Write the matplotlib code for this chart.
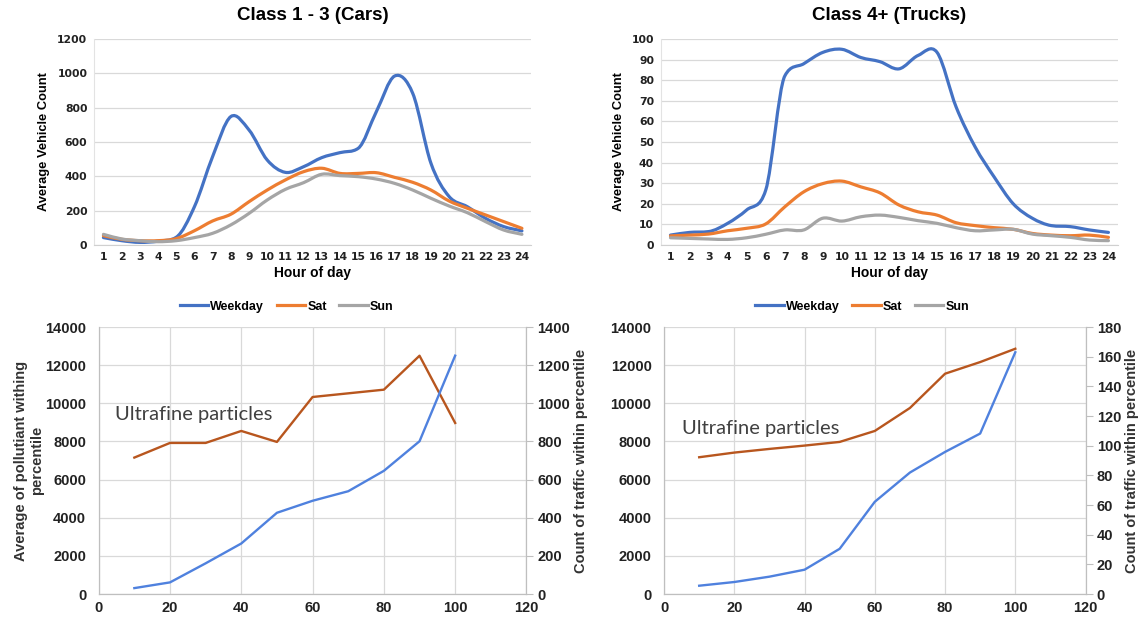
import numpy as np
import matplotlib
matplotlib.use("Agg")
import matplotlib.pyplot as plt
from matplotlib.path import Path
from matplotlib.patches import PathPatch
from matplotlib.lines import Line2D

plt.rcParams['font.family'] = ['Liberation Sans', 'DejaVu Sans']

# hourly counts
hours = list(range(1, 25))
cars_weekday = [43, 25, 15, 22, 45, 223, 515, 748, 670, 495, 423, 456, 509, 538, 563, 777,
                984, 883, 476, 282, 223, 155, 107, 82]
cars_sat = [54, 33, 25, 25, 37, 83, 140, 179, 252, 320, 379, 427, 447, 417, 417, 421,
            394, 365, 320, 256, 214, 175, 136, 97]
cars_sun = [62, 35, 25, 19, 25, 43, 68, 117, 184, 262, 324, 363, 412, 404, 398, 384,
            359, 320, 272, 227, 188, 136, 87, 62]
trucks_weekday = [4.8, 6.1, 6.5, 10.5, 17, 26.6, 82, 88, 93.5, 95, 91, 89, 85.5, 92, 93.5, 67,
                  47.6, 33, 20, 13, 9.4, 8.9, 7.3, 6.1]
trucks_sat = [4.4, 4.8, 5.3, 6.9, 8.1, 10.2, 18.5, 25.8, 29.8, 31, 28.2, 25.3, 19.4, 16.1, 14.5,
              10.8, 9.4, 8.4, 7.6, 5.6, 4.8, 4.5, 4.8, 3.7]
trucks_sun = [3.5, 3.2, 2.9, 2.7, 3.5, 5.2, 7.3, 7.3, 13, 11.6, 13.7, 14.5, 13.4, 11.8, 10.5,
              8.4, 6.9, 7.3, 7.6, 5.3, 4.5, 3.7, 2.4, 2.1]

# percentile panels
percentile = [10, 20, 30, 40, 50, 60, 70, 80, 90, 100]
ufp_cars = [7155, 7923, 7923, 8551, 7976, 10332, 10524, 10716, 12496, 8970]
traffic_cars = [31, 61, 161, 265, 426, 489, 539, 646, 801, 1250]
ufp_trucks = [7173, 7417, 7609, 7784, 7976, 8551, 9756, 11553, 12164, 12862]
traffic_trucks = [5.6, 8.1, 11.7, 16.4, 30.5, 62.2, 81.9, 95.8, 108.2, 163]

BLUE, ORANGE, GREY = '#4472C4', '#ED7D31', '#A5A5A5'
BROWN, LBLUE = '#B8561E', '#4F81DE'


def smooth_line(ax, x, y, color, lw=2.3):
    # excel-style smoothed line: cubic bezier through the points
    x = np.asarray(x, float)
    y = np.asarray(y, float)
    n = len(x)
    d = np.diff(y) / np.diff(x)
    m = np.zeros(n)
    m[0], m[-1] = d[0], d[-1]
    for i in range(1, n - 1):
        m[i] = (y[i + 1] - y[i - 1]) / (x[i + 1] - x[i - 1])
        # limit slope on monotone stretches so steep jumps don't overshoot
        if d[i - 1] * d[i] > 0:
            lim = 3 * min(abs(d[i - 1]), abs(d[i]))
            m[i] = np.sign(m[i]) * min(abs(m[i]), lim)
    verts = [(x[0], y[0])]
    codes = [Path.MOVETO]
    for i in range(n - 1):
        h = (x[i + 1] - x[i]) / 3.0
        verts += [(x[i] + h, y[i] + m[i] * h), (x[i + 1] - h, y[i + 1] - m[i + 1] * h),
                  (x[i + 1], y[i + 1])]
        codes += [Path.CURVE4] * 3
    ax.add_patch(PathPatch(Path(verts, codes), facecolor='none', edgecolor=color,
                           lw=lw, capstyle='round', joinstyle='round'))


def hourly_panel(rect, title, series, ymax, ystep):
    ax = fig.add_axes(rect)
    ax.set_xlim(0.5, 24.5)
    ax.set_ylim(0, ymax)
    for vals, col in series:
        smooth_line(ax, hours, vals, col)
    ax.set_xticks(hours)
    ax.set_yticks(np.arange(0, ymax + 0.1, ystep))
    ax.tick_params(length=0, labelsize=7.8, colors='#222222', pad=5)
    for lab in ax.get_xticklabels() + ax.get_yticklabels():
        lab.set_fontweight('bold')
        lab.set_family('DejaVu Sans')
    ax.grid(axis='y', color='#D9D9D9', lw=0.9)
    ax.set_axisbelow(True)
    for s in ['top', 'right']:
        ax.spines[s].set_visible(False)
    ax.spines['left'].set_color('#E3E3E3')
    ax.spines['bottom'].set_color('#D0D0D0')
    ax.set_title(title, fontsize=13.5, fontweight='bold', pad=14)
    ax.set_xlabel('Hour of day', fontsize=10, fontweight='bold', labelpad=3)
    ax.set_ylabel('Average Vehicle Count', fontsize=9.3, fontweight='bold', labelpad=5)
    handles = [Line2D([], [], color=c, lw=2.3) for c in (BLUE, ORANGE, GREY)]
    ax.legend(handles, ['Weekday', 'Sat', 'Sun'], ncol=3, frameon=False,
              loc='center', bbox_to_anchor=(0.44, -0.3),
              prop={'weight': 'bold', 'size': 9}, handlelength=2.3,
              handletextpad=0.15, columnspacing=1.0)
    return ax


def percentile_panel(rect, ufp, traffic, rmax, rstep, lefttxt, righttxt, txt_xy):
    ax = fig.add_axes(rect)
    ax.plot(percentile, ufp, color=BROWN, lw=1.7)
    ax.set_xlim(0, 120)
    ax.set_ylim(0, 14000)
    ax.set_xticks(range(0, 121, 20))
    ax.set_yticks(range(0, 14001, 2000))
    ax.grid(True, color='#D9D9D9', lw=0.9)
    ax.set_axisbelow(True)
    ax.spines['top'].set_visible(False)
    for s in ['left', 'right', 'bottom']:
        ax.spines[s].set_color('#BFBFBF')
    ax.tick_params(length=0, labelsize=10.5, colors='#222222', pad=9)
    ax.tick_params(axis='x', pad=5)
    for lab in ax.get_xticklabels() + ax.get_yticklabels():
        lab.set_fontweight('bold')
    if lefttxt:
        ax.set_ylabel(lefttxt, fontsize=10.5, fontweight='bold', color='#333333',
                      labelpad=1, linespacing=1.15)
    ax.text(txt_xy[0], txt_xy[1], 'Ultrafine particles', fontsize=14.5, family='Lato',
            color='#404040', va='center', ha='left')

    ax2 = ax.twinx()
    ax2.plot(percentile, traffic, color=LBLUE, lw=1.7)
    ax2.set_ylim(0, rmax)
    ax2.set_yticks(np.arange(0, rmax + 0.1, rstep))
    ax2.spines['top'].set_visible(False)
    for s in ['left', 'right', 'bottom']:
        ax2.spines[s].set_color('#BFBFBF')
    ax2.tick_params(axis='y', length=5, color='#BFBFBF', labelsize=10.5,
                    labelcolor='#222222', pad=3)
    for lab in ax2.get_yticklabels():
        lab.set_fontweight('bold')
    ax2.set_ylabel(righttxt, fontsize=10.5, fontweight='bold', color='#333333',
                   labelpad=3)
    return ax


fig = plt.figure(figsize=(11.41, 6.18), dpi=100)

hourly_panel([0.0827, 0.6036, 0.3827, 0.3333], 'Class 1 - 3 (Cars)',
             [(cars_weekday, BLUE), (cars_sat, ORANGE), (cars_sun, GREY)], 1200, 200)
hourly_panel([0.5793, 0.6036, 0.4005, 0.3333], 'Class 4+ (Trucks)',
             [(trucks_weekday, BLUE), (trucks_sat, ORANGE), (trucks_sun, GREY)], 100, 10)

percentile_panel([0.0865, 0.0388, 0.3749, 0.432], ufp_cars, traffic_cars, 1400, 200,
                 'Average of pollutiant withing\npercentile',
                 'Count of traffic within percentile', (4.6, 9440))
percentile_panel([0.582, 0.0388, 0.3694, 0.432], ufp_trucks, traffic_trucks, 180, 20,
                 None, 'Count of traffic within percentile', (5.1, 8704))

fig.savefig('out.png', dpi=100)
